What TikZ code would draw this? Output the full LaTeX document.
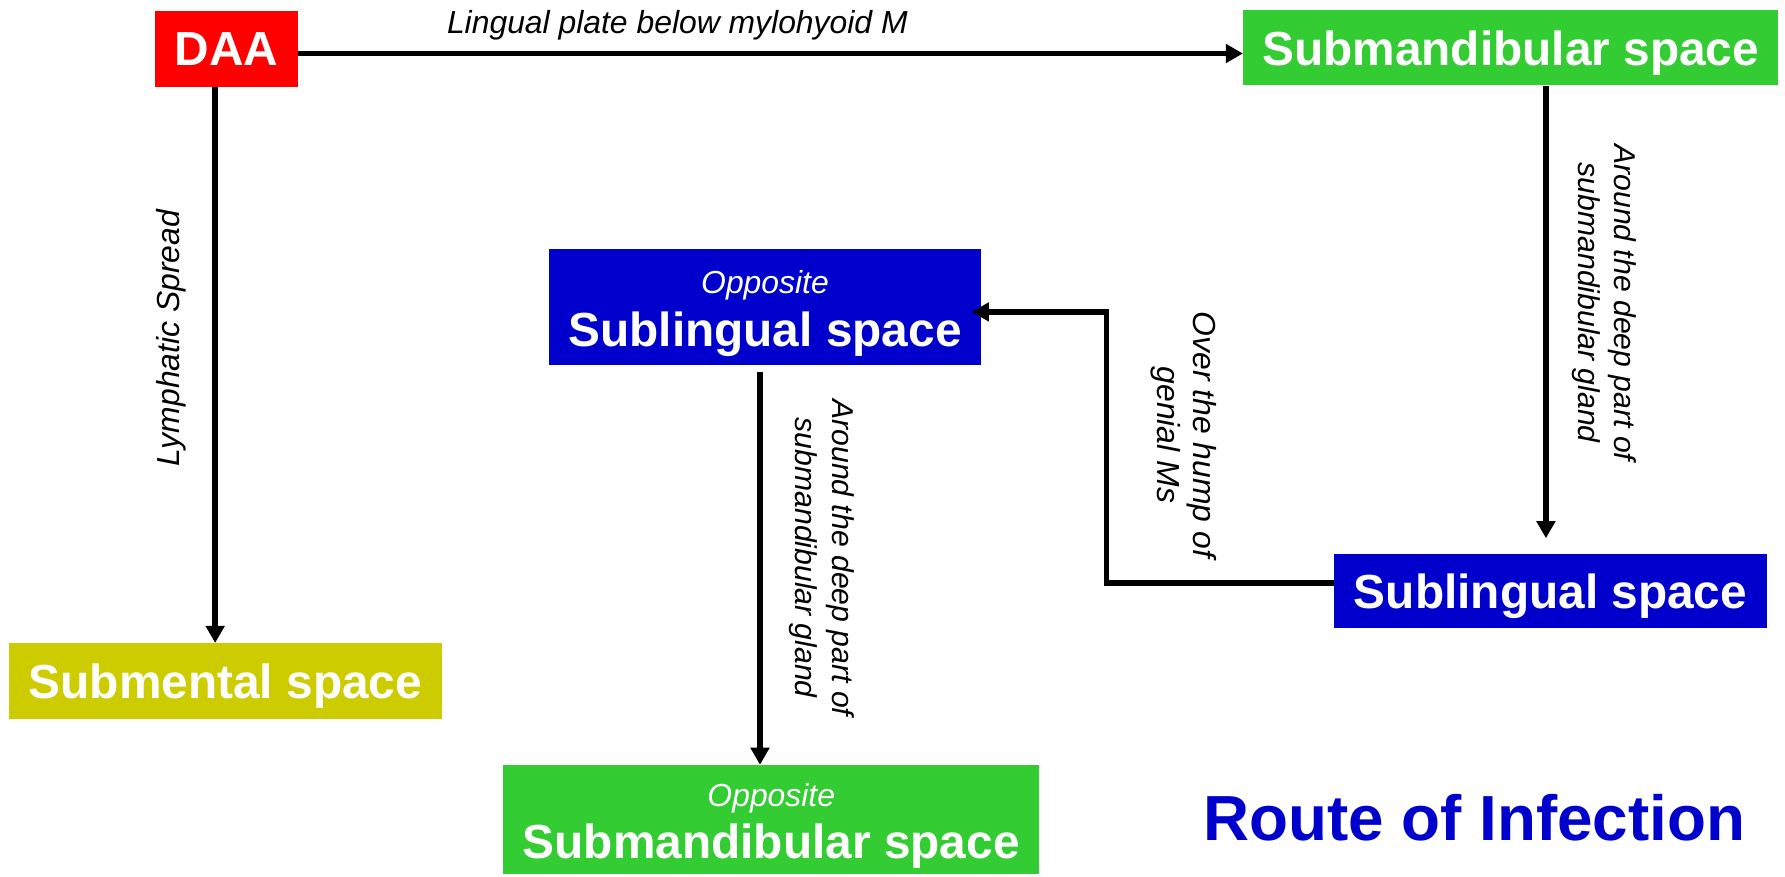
\documentclass[tikz,border=0pt]{standalone}
\usepackage{fontspec}
\setmainfont{Liberation Sans}
\usetikzlibrary{arrows.meta}
\definecolor{daared}{HTML}{FF0000}
\definecolor{spgreen}{HTML}{33CC33}
\definecolor{spblue}{HTML}{0000CC}
\definecolor{spolive}{HTML}{CCCC00}
% small italic prefix line inside a box, with a strut to lower the text block
\newcommand{\oppofont}{\mdseries\itshape\fontsize{28}{32}\selectfont\rule{0pt}{31pt}}
\begin{document}
\begin{tikzpicture}[x=1pt,y=-1pt,
  space/.style={inner sep=0pt, text=white, align=center,
    font=\bfseries\fontsize{42}{46}\selectfont},
  oneline/.style={space, text depth=0pt},
  conn/.style={line width=5.2pt, -{Triangle[length=15pt,width=16pt]}},
  route/.style={inner sep=0pt, align=center,
    font=\itshape\fontsize{26.5}{32}\selectfont},
]
\useasboundingbox (0,0) rectangle (1568,770.3);

% spaces
\node[oneline, fill=daared, minimum width=126pt, minimum height=66pt]
  (daa) at (199,43) {DAA};
\node[oneline, fill=spgreen, minimum width=470pt, minimum height=66pt]
  (smd) at (1327,42) {Submandibular space};
\node[oneline, fill=spolive, minimum width=380pt, minimum height=67pt]
  (smt) at (198,598.5) {Submental space};
\node[space, fill=spblue, minimum width=380pt, minimum height=102pt]
  (osl) at (672,270) {{\oppofont Opposite}\\Sublingual space};
\node[oneline, fill=spblue, minimum width=380pt, minimum height=65pt]
  (sl) at (1362,519.5) {Sublingual space};
\node[space, fill=spgreen, minimum width=471pt, minimum height=96pt]
  (osmd) at (677.5,720) {{\oppofont Opposite}\\Submandibular space};

% routes
\draw[conn] ([yshift=-4pt]daa.east) -- ([yshift=-4pt]daa.east -| smd.west);
\draw[conn] ([xshift=-10pt]daa.south) -- ([xshift=-10pt]daa.south |- smt.north);
\draw[conn, shorten >=14pt] ([xshift=31pt]smd.south) -- ([xshift=31pt]smd.south |- sl.north);
\coordinate (hump) at (972,400);
\draw[conn, shorten >=-8.5pt] ([yshift=7.5pt]sl.west) -| (hump) |- ([yshift=-4pt]osl.east);
\draw[conn, shorten <=6pt] ([xshift=-4.4pt]osl.south) -- ([xshift=-4.4pt]osl.south |- osmd.north);

% route labels
\node[route, font=\itshape\fontsize{28}{32}\selectfont, anchor=base]
  (lbl-lingual) at (595,29) {Lingual plate below mylohyoid M};
\node[route, font=\itshape\fontsize{28}{32}\selectfont, rotate=90]
  (lbl-lymph) at (150,297) {Lymphatic Spread};
\node[route, rotate=-90] (lbl-deep) at (1409,266)
  {Around the deep part of\\submandibular gland};
\node[route, font=\itshape\fontsize{28}{32}\selectfont, rotate=-90]
  (lbl-hump) at (1040,382) {Over the hump of\\genial Ms};
\node[route, rotate=-90] (lbl-deep2) at (722,490)
  {Around the deep part of\\submandibular gland};

% title
\node[anchor=base, inner sep=0pt, text=spblue,
  font=\bfseries\fontsize{56}{60}\selectfont] (title) at (1295,738)
  {Route of Infection};
\end{tikzpicture}
\end{document}
